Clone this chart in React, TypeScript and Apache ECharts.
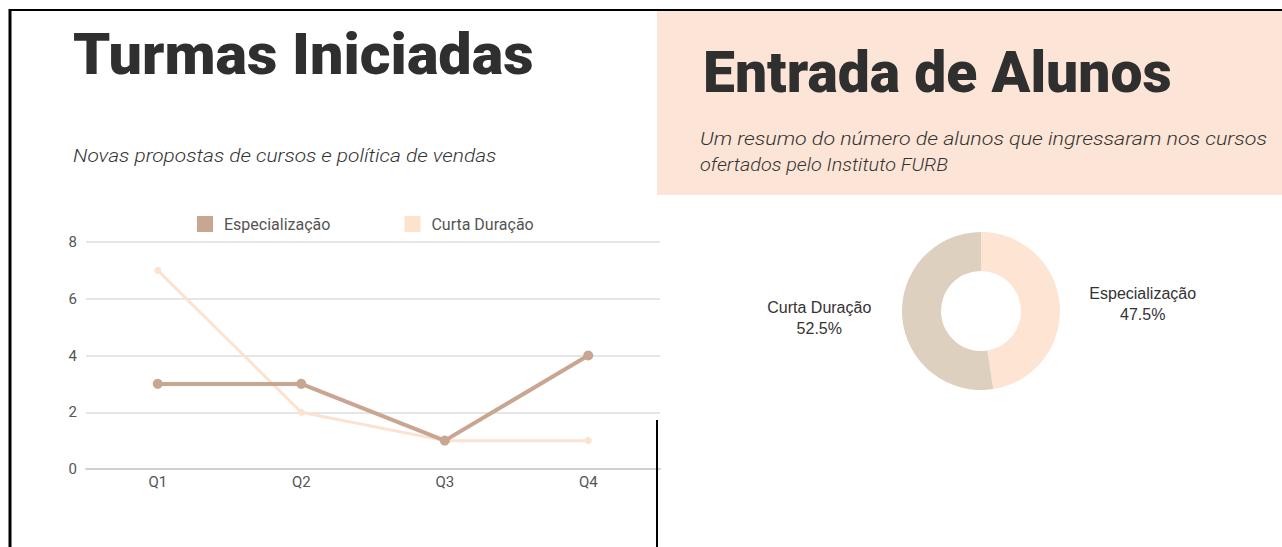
import React, { useEffect, useRef } from "react";
import * as echarts from "echarts";

const quarters = ["Q1", "Q2", "Q3", "Q4"];
const especializacao = [3, 3, 1, 4];
const curtaDuracao = [7, 2, 1, 1];
const yTicks = { min: 0, max: 8, interval: 2 };
const pieNames = ["Especialização", "Curta Duração"];
const pieValues = [19, 21];

const C_ESP = "#C8A691";
const C_CURTA = "#FCE3D0";
const C_PIE_ESP = "#FDE4D3";
const C_PIE_CURTA = "#DDD0BF";
const TITLE_FONT = "Roboto";

export default function App() {
  const ref = useRef<HTMLDivElement>(null);
  useEffect(() => {
    if (!ref.current) return;
    const chart = echarts.init(ref.current, null, { renderer: "svg" });
    chart.setOption({
      animation: false,
      backgroundColor: "#ffffff",
      graphic: [
        { type: "rect", z: -10, shape: { x: 657, y: 11, width: 625, height: 184 }, style: { fill: "#FCE5D6" } },
        { type: "line", z: 50, shape: { x1: 9, y1: 10, x2: 1282, y2: 10 }, style: { stroke: "#000", lineWidth: 2 } },
        { type: "line", z: 50, shape: { x1: 10, y1: 9, x2: 10, y2: 547 }, style: { stroke: "#000", lineWidth: 3 } },
        { type: "line", z: 50, shape: { x1: 657, y1: 420, x2: 657, y2: 547 }, style: { stroke: "#000", lineWidth: 2 } },
        {
          type: "text", x: 73, y: 26, scaleX: 1.04,
          style: { text: "Turmas Iniciadas", fontFamily: TITLE_FONT, fontWeight: 900, fontSize: 57, fill: "#2f2f2f", verticalAlign: "top" },
        },
        {
          type: "text", x: 703, y: 44, scaleX: 1,
          style: { text: "Entrada de Alunos", fontFamily: TITLE_FONT, fontWeight: 900, fontSize: 57, fill: "#2f2f2f", verticalAlign: "top" },
        },
        {
          type: "text", x: 73, y: 146, scaleX: 1.1,
          style: { text: "Novas propostas de cursos e política de vendas", fontFamily: "Roboto", fontStyle: "italic", fontWeight: 300, fontSize: 19, fill: "#333", verticalAlign: "top" },
        },
        {
          type: "text", x: 700, y: 130, scaleX: 1.19,
          style: { text: "Um resumo do número de alunos que ingressaram nos cursos", fontFamily: "Roboto", fontStyle: "italic", fontWeight: 300, fontSize: 18, fill: "#333", verticalAlign: "top" },
        },
        {
          type: "text", x: 700, y: 156, scaleX: 1.1,
          style: { text: "ofertados pelo Instituto FURB", fontFamily: "Roboto", fontStyle: "italic", fontWeight: 300, fontSize: 18, fill: "#333", verticalAlign: "top" },
        },
      ],
      legend: {
        data: ["Especialização", "Curta Duração"],
        left: 197,
        top: 216,
        padding: 0,
        itemWidth: 16,
        itemHeight: 16,
        itemGap: 74,
        icon: "rect",
        textStyle: { fontFamily: "Roboto", fontSize: 16, color: "#555", padding: [0, 0, 0, 6] },
      },
      grid: { left: 86, right: 622, top: 242, bottom: 78, containLabel: false },
      xAxis: {
        type: "category",
        data: quarters,
        boundaryGap: true,
        axisLine: { show: true, lineStyle: { color: "#d0d0d0", width: 2 } },
        axisTick: { show: false },
        axisLabel: { color: "#555", fontFamily: "Roboto", fontSize: 15, margin: 5 },
      },
      yAxis: {
        type: "value",
        min: yTicks.min,
        max: yTicks.max,
        interval: yTicks.interval,
        axisLine: { show: false },
        axisTick: { show: false },
        axisLabel: { color: "#555", fontFamily: "Roboto", fontSize: 15, margin: 9 },
        splitLine: { lineStyle: { color: "#e6e6e6", width: 2 } },
      },
      series: [
        {
          name: "Curta Duração",
          type: "line",
          data: curtaDuracao,
          color: C_CURTA,
          symbol: "circle",
          symbolSize: 7,
          lineStyle: { width: 3, color: C_CURTA },
          itemStyle: { color: C_CURTA },
        },
        {
          name: "Especialização",
          type: "line",
          data: especializacao,
          color: C_ESP,
          symbol: "circle",
          symbolSize: 10,
          lineStyle: { width: 4, color: C_ESP },
          itemStyle: { color: C_ESP },
        },
        {
          name: "Entrada",
          type: "pie",
          center: [981, 311],
          radius: [40, 79],
          startAngle: 90,
          clockwise: true,
          avoidLabelOverlap: false,
          data: pieNames.map((n, i) => ({
            name: n,
            value: pieValues[i],
            itemStyle: { color: i === 0 ? C_PIE_ESP : C_PIE_CURTA },
          })),
          label: {
            show: true,
            position: "outside",
            formatter: "{a|{b}}\n{a|{d}%}",
            rich: { a: { width: 120, align: "center", fontFamily: "Liberation Sans", fontSize: 16, color: "#333", lineHeight: 21 } },
          },
          labelLine: { show: false, length: 10, length2: 8 },
          emphasis: { disabled: true },
        },
      ],
    });
    return () => chart.dispose();
  }, []);
  return <div ref={ref} style={{ position: "absolute", left: 0, top: 0, width: 1282, height: 547 }} />;
}
